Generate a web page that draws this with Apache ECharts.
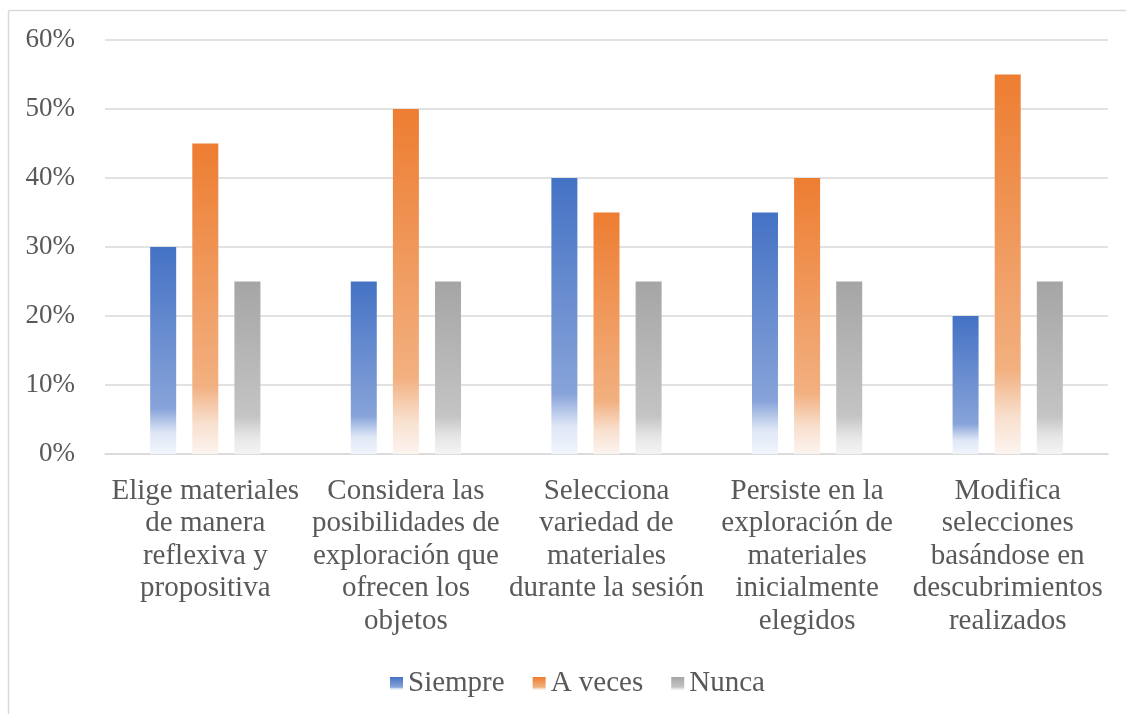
<!DOCTYPE html>
<html>
<head>
<meta charset="utf-8">
<script src="https://cdn.jsdelivr.net/npm/echarts@6/dist/echarts.min.js"></script>
<style>
html,body{margin:0;padding:0;background:#fff;}
#c{width:1126px;height:714px;}
</style>
</head>
<body>
<div id="c"></div>
<script>
const categories = [
  "Elige materiales\nde manera\nreflexiva y\npropositiva",
  "Considera las\nposibilidades de\nexploración que\nofrecen los\nobjetos",
  "Selecciona\nvariedad de\nmateriales\ndurante la sesión",
  "Persiste en la\nexploración de\nmateriales\ninicialmente\nelegidos",
  "Modifica\nselecciones\nbasándose en\ndescubrimientos\nrealizados"
];
const seriesNames = ["Siempre", "A veces", "Nunca"];
const siempre = [30, 25, 40, 35, 20];
const aVeces = [45, 50, 35, 40, 55];
const nunca = [25, 25, 25, 25, 25];
const yTicks = [0, 10, 20, 30, 40, 50, 60];

function grad(top, mid, light, bottom) {
  return new echarts.graphic.LinearGradient(0, 0, 0, 1, [
    {offset: 0, color: top},
    {offset: 0.78, color: mid},
    {offset: 0.9, color: light},
    {offset: 1, color: bottom}
  ]);
}
const colors = [
  grad('#4472C4', '#87a3d9', '#dfe7f6', '#f1f5fc'),
  grad('#ED7D31', '#f2b080', '#f8dfcd', '#fcf4ef'),
  grad('#A5A5A5', '#c4c4c4', '#e6e6e6', '#f4f4f4')
];
const font = '"Liberation Serif", "Times New Roman", serif';
const chart = echarts.init(document.getElementById('c'), null, {renderer: 'canvas'});
const data = [siempre, aVeces, nunca];
chart.setOption({
  animation: false,
  textStyle: {fontFamily: font},
  graphic: [
    {type: 'line', shape: {x1: 8.5, y1: 10.5, x2: 1126, y2: 10.5}, style: {stroke: '#d9d9d9', lineWidth: 1.5}},
    {type: 'line', shape: {x1: 8.5, y1: 10.5, x2: 8.5, y2: 714}, style: {stroke: '#d9d9d9', lineWidth: 1.5}}
  ],
  grid: {left: 105, right: 18, top: 40, bottom: 260, containLabel: false},
  legend: {
    top: 664,
    left: 385,
    itemWidth: 13,
    itemHeight: 13,
    itemGap: 28,
    icon: 'rect',
    textStyle: {fontFamily: font, fontSize: 29, color: '#595959'},
    data: seriesNames
  },
  xAxis: {
    type: 'category',
    data: categories,
    axisLine: {show: true, lineStyle: {color: '#d9d9d9', width: 1.5}},
    axisTick: {show: false},
    axisLabel: {
      interval: 0,
      fontFamily: font,
      fontSize: 29,
      color: '#595959',
      lineHeight: 32.5,
      margin: 21,
      align: 'center'
    }
  },
  yAxis: {
    type: 'value',
    min: 0,
    max: 60,
    interval: 10,
    axisLine: {show: false},
    axisTick: {show: false},
    splitLine: {lineStyle: {color: '#d9d9d9', width: 1.5}},
    axisLabel: {
      fontFamily: font,
      fontSize: 27,
      color: '#595959',
      margin: 30,
      formatter: v => v + '%'
    }
  },
  series: seriesNames.map((n, i) => ({
    name: n,
    type: 'bar',
    data: data[i],
    barWidth: 26,
    barGap: '62%',
    itemStyle: {color: colors[i]}
  }))
});
</script>
</body>
</html>
